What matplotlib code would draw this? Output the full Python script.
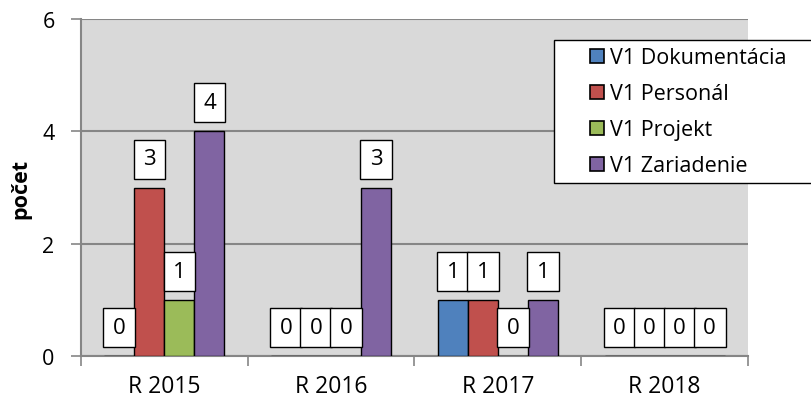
import matplotlib
matplotlib.use("Agg")
import matplotlib.pyplot as plt
from matplotlib.path import Path
from matplotlib.patches import Rectangle
from matplotlib.container import BarContainer
from matplotlib.legend_handler import HandlerPatch
import numpy as np

categories = ["R 2015", "R 2016", "R 2017", "R 2018"]
series_names = ["V1 Dokumentácia", "V1 Personál", "V1 Projekt", "V1 Zariadenie"]
dokumentacia = [0, 0, 1, 0]
personal = [3, 0, 1, 0]
projekt = [1, 0, 0, 0]
zariadenie = [4, 3, 1, 0]
series_values = [dokumentacia, personal, projekt, zariadenie]
colors = ["#4F81BD", "#C0504D", "#9BBB59", "#8064A2"]
y_ticks = [0, 2, 4, 6]

plt.rcParams['font.family'] = ['Open Sans', 'DejaVu Sans']

LBL_FS = 16
PADX = 9.5
PADY = 9.0


def label_box(x0, y0, width, height, mutation_size):
    # fixed pixel padding, different horizontally and vertically
    x0 -= PADX
    y0 -= PADY
    x1 = x0 + width + 2 * PADX
    y1 = y0 + height + 2 * PADY
    return Path([(x0, y0), (x1, y0), (x1, y1), (x0, y1), (x0, y0)],
                [Path.MOVETO, Path.LINETO, Path.LINETO, Path.LINETO, Path.CLOSEPOLY])


fig = plt.figure(figsize=(8.12, 4.02), dpi=100)
ax = fig.add_axes([81/812, 1-357/402, (748-81)/812, (357-20)/402])
ax.set_facecolor("#D9D9D9")

n = len(series_values)
x = np.arange(len(categories))
bw = 0.18
for i, (vals, col, name) in enumerate(zip(series_values, colors, series_names)):
    xs = x + (i - (n-1)/2) * bw
    ax.bar(xs, vals, width=bw, color=col, edgecolor="black", linewidth=1.0,
           label=name, zorder=3)
    for xi, v in zip(xs, vals):
        ax.annotate(str(v), (xi, v), xytext=(0, 9 + PADY), textcoords='offset pixels',
                    ha='center', va='bottom', fontsize=LBL_FS, zorder=5,
                    bbox=dict(boxstyle=label_box, fc="white", ec="black", lw=1.0))

ax.set_xlim(-0.5, len(categories)-0.5)
ax.set_ylim(0, 6)
ax.set_yticks(y_ticks)
ax.set_yticklabels([str(t) for t in y_ticks], fontsize=15.5)
ax.yaxis.grid(True, color="#868686", linewidth=1.5, zorder=0)
ax.set_axisbelow(True)

ax.set_xticks(np.arange(len(categories)+1) - 0.5)
ax.set_xticklabels([])
ax.set_xticks(x, minor=True)
ax.set_xticklabels(categories, minor=True, fontsize=16.5)
ax.tick_params(axis='x', which='minor', length=0, pad=13)
ax.tick_params(axis='x', which='major', length=7, color="#868686", width=1.2)
ax.tick_params(axis='y', length=7, color="#868686", width=1.2, pad=12)

for s in ["top", "right"]:
    ax.spines[s].set_visible(False)
for s in ["left", "bottom"]:
    ax.spines[s].set_color("#868686")
    ax.spines[s].set_linewidth(1.5)

ax.set_ylabel("počet", fontsize=15.5, fontweight="bold", labelpad=8)


def make_square(legend, orig_handle, xdescent, ydescent, width, height, fontsize):
    s = 14 * 72 / fig.dpi
    return Rectangle((width - s - xdescent, height / 2 - s / 2 - ydescent), s, s)


def update_square(handle, orig):
    src = orig.patches[0] if isinstance(orig, BarContainer) else orig
    handle.update_from(src)


LEG_FS = 15.5
x0 = 554 / 812
y1 = 1 - 41 / 402
y0 = 1 - 181 / 402
sq_handler = HandlerPatch(patch_func=make_square, update_func=update_square)
leg = fig.legend(loc="upper left", bbox_to_anchor=(x0, y0, 1.02 - x0, y1 - y0),
                 mode="expand",
                 fontsize=LEG_FS, frameon=True, fancybox=False, edgecolor="black",
                 framealpha=1.0,
                 handlelength=2.0, handleheight=0.7, handletextpad=0.25,
                 labelspacing=0.7, borderpad=0.33, borderaxespad=0,
                 handler_map={BarContainer: sq_handler, Rectangle: sq_handler})
leg.get_frame().set_linewidth(1.0)
for h in leg.legend_handles:
    h.set_edgecolor("black")
    h.set_linewidth(1.2)

fig.savefig("out.png", dpi=100)
